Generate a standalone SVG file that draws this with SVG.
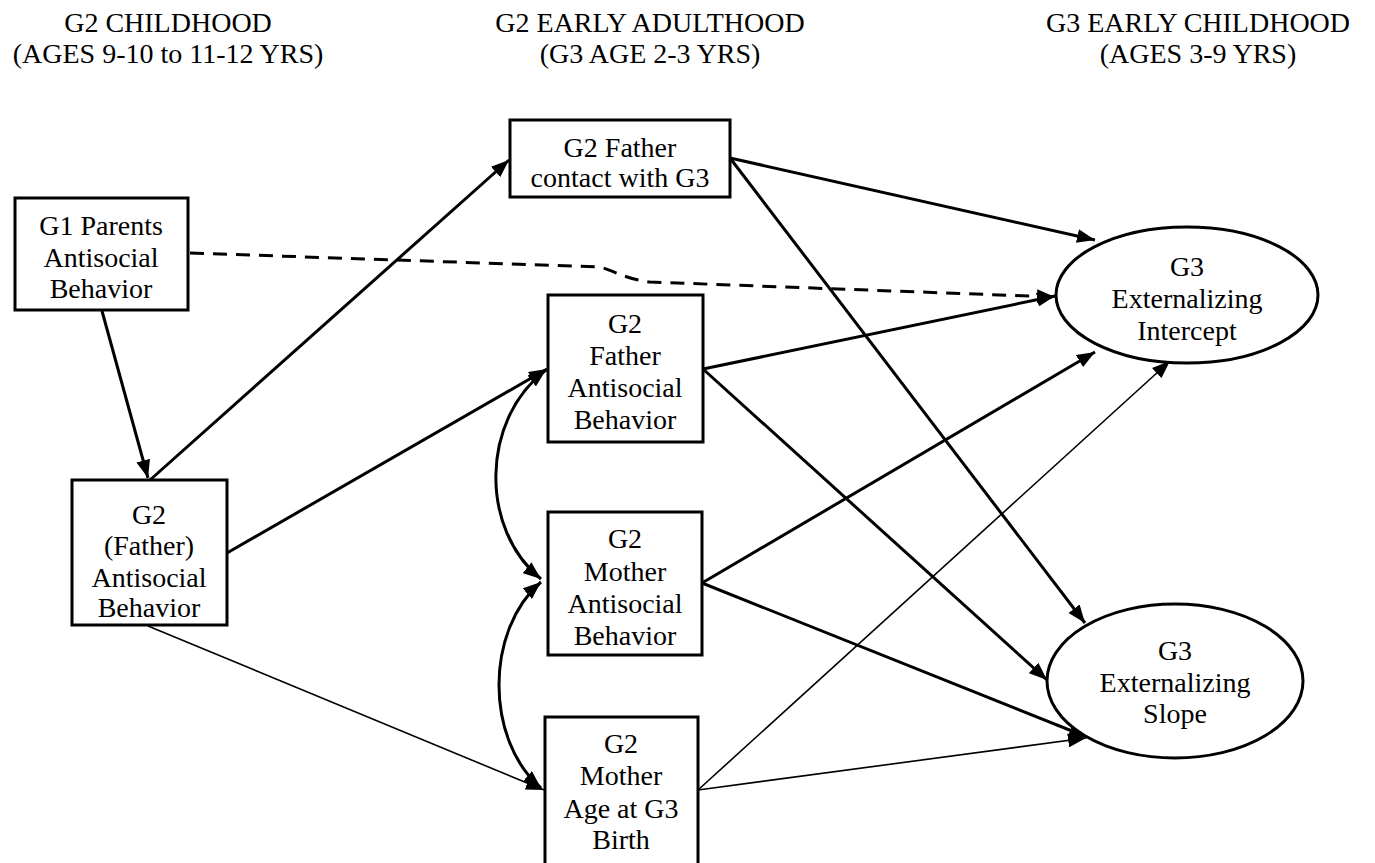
<svg xmlns="http://www.w3.org/2000/svg" width="1375" height="863" viewBox="0 0 1375 863">
<defs>
<style>
text{font-family:"Liberation Serif","Times New Roman",serif;font-size:28px;fill:#000;text-anchor:middle}
.box{fill:#fff;stroke:#000;stroke-width:3}
.ell{fill:#fff;stroke:#000;stroke-width:3}
.c{fill:none;stroke:#000;stroke-width:3}
.t{fill:none;stroke:#000;stroke-width:1.6}
.d{fill:none;stroke:#000;stroke-width:3;stroke-dasharray:14,9}
</style>
<marker id="ah" markerUnits="userSpaceOnUse" markerWidth="20" markerHeight="14" refX="18" refY="7" orient="auto-start-reverse">
<path d="M0,0 L18,7 L0,14 z" fill="#000"/>
</marker>
</defs>
<rect width="1375" height="863" fill="#fff"/>
<g id="headers">
<text x="168" y="32">G2 CHILDHOOD</text>
<text x="168" y="63">(AGES 9-10 to 11-12 YRS)</text>
<text x="650" y="32">G2 EARLY ADULTHOOD</text>
<text x="650" y="63">(G3 AGE 2-3 YRS)</text>
<text x="1198" y="32">G3 EARLY CHILDHOOD</text>
<text x="1198" y="63">(AGES 3-9 YRS)</text>
</g>
<g id="connectors">
<path class="c" d="M102,311 L148,478" marker-end="url(#ah)"/>
<path class="c" d="M150,480 L509,160" marker-end="url(#ah)"/>
<path class="c" d="M227,553 L547,369" marker-end="url(#ah)"/>
<path class="t" d="M148,626 L544,790" marker-end="url(#ah)"/>
<path class="d" d="M190,253 L600,267 C615,271 625,279 650,282 L1055,297" marker-end="url(#ah)"/>
<path class="c" d="M730,158 L1095,240" marker-end="url(#ah)"/>
<path class="c" d="M730,158 L1085,623" marker-end="url(#ah)"/>
<path class="c" d="M703,369 L1055,296" marker-end="url(#ah)"/>
<path class="c" d="M703,369 L1047,680" marker-end="url(#ah)"/>
<path class="c" d="M702,583 L1095,352" marker-end="url(#ah)"/>
<path class="c" d="M702,583 L1087,737" marker-end="url(#ah)"/>
<path class="t" d="M698,790 L1170,361" marker-end="url(#ah)"/>
<path class="t" d="M698,790 L1086,738" marker-end="url(#ah)"/>
<path class="c" d="M546,370 C480,420 480,530 541,579" marker-start="url(#ah)" marker-end="url(#ah)"/>
<path class="c" d="M541,582 C485,630 485,740 541,788" marker-start="url(#ah)" marker-end="url(#ah)"/>
</g>
<g id="g1-parents">
<rect class="box" x="15" y="198" width="173" height="112"/>
<text x="101" y="235">G1 Parents</text>
<text x="101" y="267">Antisocial</text>
<text x="101" y="298">Behavior</text>
</g>
<g id="g2-father-child">
<rect class="box" x="72" y="480" width="155" height="145"/>
<text x="149" y="524">G2</text>
<text x="149" y="555">(Father)</text>
<text x="149" y="587">Antisocial</text>
<text x="149" y="617">Behavior</text>
</g>
<g id="father-contact">
<rect class="box" x="510" y="120" width="220" height="77"/>
<text x="620" y="157">G2 Father</text>
<text x="620" y="187">contact with G3</text>
</g>
<g id="father-antisocial">
<rect class="box" x="548" y="295" width="155" height="147"/>
<text x="625" y="333">G2</text>
<text x="625" y="365">Father</text>
<text x="625" y="397">Antisocial</text>
<text x="625" y="429">Behavior</text>
</g>
<g id="mother-antisocial">
<rect class="box" x="548" y="512" width="154" height="143"/>
<text x="625" y="548">G2</text>
<text x="625" y="581">Mother</text>
<text x="625" y="613">Antisocial</text>
<text x="625" y="645">Behavior</text>
</g>
<g id="mother-age">
<rect class="box" x="545" y="717" width="153" height="160"/>
<text x="621" y="753">G2</text>
<text x="621" y="785">Mother</text>
<text x="621" y="818">Age at G3</text>
<text x="621" y="849">Birth</text>
</g>
<g id="intercept">
<ellipse class="ell" cx="1187" cy="295" rx="131" ry="68"/>
<text x="1187" y="276">G3</text>
<text x="1187" y="308">Externalizing</text>
<text x="1187" y="340">Intercept</text>
</g>
<g id="slope">
<ellipse class="ell" cx="1175" cy="681" rx="128" ry="77"/>
<text x="1175" y="660">G3</text>
<text x="1175" y="692">Externalizing</text>
<text x="1175" y="723">Slope</text>
</g>
</svg>
